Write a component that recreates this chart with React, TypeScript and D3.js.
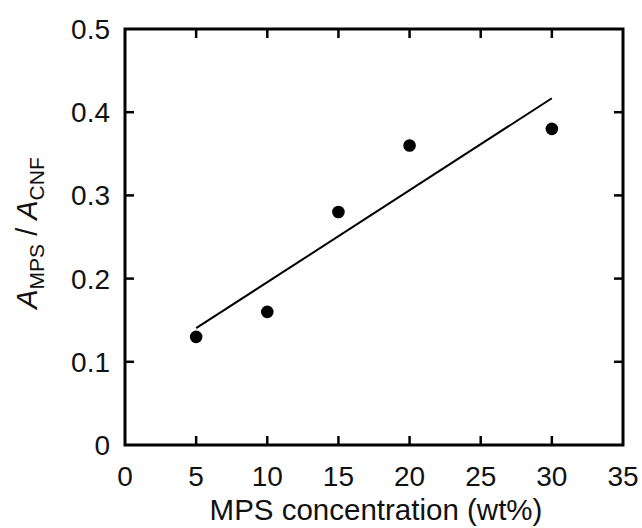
import React from "react";
import * as d3 from "d3";

const concentrations = [5, 10, 15, 20, 30];
const ratios = [0.13, 0.16, 0.28, 0.36, 0.38];
const xTicks = [0, 5, 10, 15, 20, 25, 30, 35];
const yTicks = [0, 0.1, 0.2, 0.3, 0.4, 0.5];

const W = 642;
const H = 528;
const M = { left: 125, right: 623, top: 29, bottom: 445 };
const FONT = "'Liberation Sans', Arial, sans-serif";

export default function App() {
  const x = d3.scaleLinear().domain([0, 35]).range([M.left, M.right]);
  const y = d3.scaleLinear().domain([0, 0.5]).range([M.bottom, M.top]);

  // least squares fit
  const mx = d3.mean(concentrations)!;
  const my = d3.mean(ratios)!;
  const sxy = d3.sum(concentrations.map((c, i) => (c - mx) * (ratios[i] - my)));
  const sxx = d3.sum(concentrations.map((c) => (c - mx) ** 2));
  const slope = sxy / sxx;
  const intercept = my - slope * mx;
  const x0 = d3.min(concentrations)!;
  const x1 = d3.max(concentrations)!;
  const fit = d3.line<number>().x((d) => x(d)).y((d) => y(intercept + slope * d))([x0, x1]) || "";

  const tl = 9;
  return (
    <svg width={W} height={H} style={{ position: "absolute", left: 0, top: 0, background: "#fff" }} fontFamily={FONT}>
      <rect x={0} y={0} width={W} height={H} fill="#fff" />
      {xTicks.map((t) => (
        <g key={"x" + t}>
          {t > 0 && t < 35 && (
            <>
              <line x1={x(t)} x2={x(t)} y1={M.bottom} y2={M.bottom - tl} stroke="#000" strokeWidth={2.5} />
              <line x1={x(t)} x2={x(t)} y1={M.top} y2={M.top + tl} stroke="#000" strokeWidth={2.5} />
            </>
          )}
          <text x={x(t)} y={486} textAnchor="middle" fontSize={28} fill="#111">{t}</text>
        </g>
      ))}
      {yTicks.map((t) => (
        <g key={"y" + t}>
          {t > 0 && t < 0.5 && (
            <>
              <line x1={M.left} x2={M.left + tl} y1={y(t)} y2={y(t)} stroke="#000" strokeWidth={2.5} />
              <line x1={M.right} x2={M.right - tl} y1={y(t)} y2={y(t)} stroke="#000" strokeWidth={2.5} />
            </>
          )}
          <text x={110} y={y(t) + 10} textAnchor="end" fontSize={28} fill="#111">{t === 0 ? "0" : d3.format(".1f")(t)}</text>
        </g>
      ))}
      <rect x={M.left} y={M.top} width={M.right - M.left} height={M.bottom - M.top} fill="none" stroke="#000" strokeWidth={3} />
      <path d={fit} stroke="#000" strokeWidth={2} fill="none" />
      {concentrations.map((c, i) => (
        <circle key={c} cx={x(c)} cy={y(ratios[i])} r={6.3} fill="#000" />
      ))}
      <text x={376} y={520} textAnchor="middle" fontSize={29.5} fill="#111">MPS concentration (wt%)</text>
      <text transform={`translate(37, 233) rotate(-90)`} textAnchor="middle" fontSize={29} fill="#111">
        <tspan fontStyle="italic">A</tspan>
        <tspan fontSize={21} dy={7}>MPS</tspan>
        <tspan dy={-7}> / </tspan>
        <tspan fontStyle="italic">A</tspan>
        <tspan fontSize={21} dy={7}>CNF</tspan>
      </text>
    </svg>
  );
}
